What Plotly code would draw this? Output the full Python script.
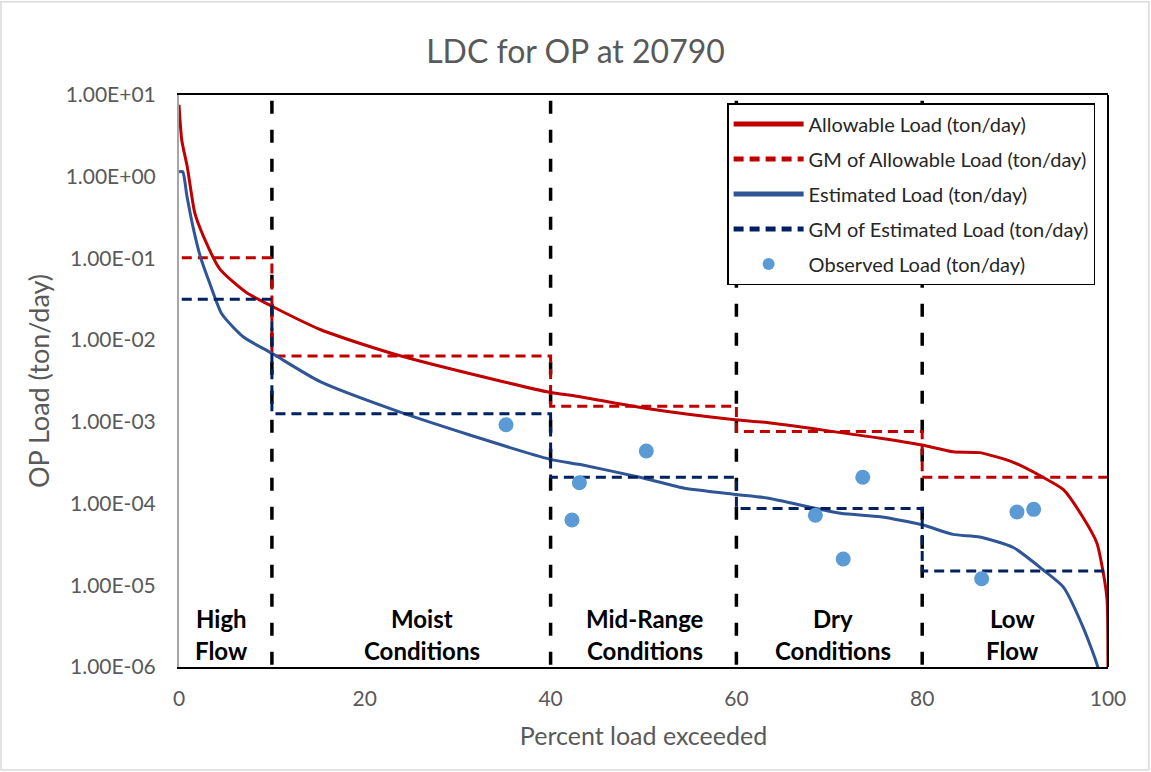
import plotly.graph_objects as go

# ---- data ----
allow_x = [0, 0.3, 0.9, 1.7, 2.6, 4.4, 7.3, 10, 15.2, 20.6, 24.1, 34.9, 39.9, 43, 50, 59.6, 63.3,
           75.5, 80, 83.3, 86.2, 89.8, 93, 95.2, 97.3, 98.8, 99.5, 99.9, 100]
allow_y = [7.6, 2.8, 1.3, 0.36, 0.19, 0.074, 0.038, 0.026, 0.0135, 0.0083, 0.0063, 0.0031, 0.0023,
           0.00204, 0.00148, 0.00107, 0.00098, 0.00063, 0.00052, 0.00043, 0.00042, 0.00032, 0.00021,
           0.000148, 0.000068, 0.000033, 0.000014, 0.0000066, 0.0000005]

est_x = [0, 0.4, 0.85, 1.5, 2.3, 3.3, 4.6, 6.9, 10, 15.2, 23.5, 31.3, 39.9, 43.2, 49.6, 54.3, 60,
         63.3, 71.2, 75.5, 80, 83.3, 86.2, 89.8, 93, 95.2, 97.3, 98.9, 99.3]
est_y = [1.15, 1.15, 0.58, 0.245, 0.105, 0.05, 0.021, 0.011, 0.0069, 0.0031, 0.00135, 0.00069,
         0.00035, 0.0003, 0.00021, 0.000155, 0.000129, 0.000117, 0.000076, 0.000069, 0.000055,
         0.000042, 0.000039, 0.000029, 0.0000155, 0.0000095, 0.0000031, 0.000001, 0.0000005]

zone_edges = [0.3, 10, 40, 60, 80, 100]
gm_allow = [0.102, 0.0064, 0.00155, 0.00076, 0.00021]
gm_est = [0.0316, 0.00126, 0.00021, 0.000087, 0.000015]

obs_x = [35.2, 42.3, 43.1, 50.3, 68.5, 71.5, 73.6, 86.4, 90.2, 92.0]
obs_y = [0.00092, 0.000063, 0.00018, 0.00044, 0.000072, 0.000021, 0.00021, 0.000012, 0.000079, 0.000085]

boundaries = [10, 40, 60, 80]
zone_line1 = ["High", "Moist", "Mid-Range", "Dry", "Low"]
zone_line2 = ["Flow", "Conditions", "Conditions", "Conditions", "Flow"]
zone_center = [4.6, 26.2, 50.2, 70.4, 89.7]

y_tickvals = [1e-6, 1e-5, 1e-4, 1e-3, 1e-2, 1e-1, 1, 10]
y_ticktext = ["1.00E-06", "1.00E-05", "1.00E-04", "1.00E-03", "1.00E-02", "1.00E-01", "1.00E+00", "1.00E+01"]
x_tickvals = [0, 20, 40, 60, 80, 100]


def step(edges, vals):
    xs, ys = [], []
    for i, v in enumerate(vals):
        xs += [edges[i], edges[i + 1]]
        ys += [v, v]
    return xs, ys


FONT = "Lato"
GRAY = "#595959"

fig = go.Figure()

for b in boundaries:
    fig.add_trace(go.Scatter(x=[b, b], y=[8.5, 1e-6], mode="lines", showlegend=False,
                             line=dict(color="black", width=3.5, dash="13px,16px"), hoverinfo="skip"))

fig.add_trace(go.Scatter(x=allow_x, y=allow_y, mode="lines", name="Allowable Load (ton/day)",
                         legendgroup="a", line=dict(color="#C00000", width=3, shape="spline", smoothing=0.6)))
gx, gy = step(zone_edges, gm_allow)
fig.add_trace(go.Scatter(x=gx, y=gy, mode="lines", name="GM of Allowable Load (ton/day)",
                         legendgroup="b", line=dict(color="#C00000", width=3, dash="10px,6px")))
fig.add_trace(go.Scatter(x=est_x, y=est_y, mode="lines", name="Estimated Load (ton/day)",
                         legendgroup="c", line=dict(color="#2F5597", width=3, shape="spline", smoothing=0.6)))
gx, gy = step(zone_edges, gm_est)
fig.add_trace(go.Scatter(x=gx, y=gy, mode="lines", name="GM of Estimated Load (ton/day)",
                         legendgroup="d", line=dict(color="#002060", width=3, dash="10px,6px")))
fig.add_trace(go.Scatter(x=obs_x, y=obs_y, mode="markers", name="Observed Load (ton/day)",
                         legendgroup="e", marker=dict(color="#5B9BD5", size=15)))

for xc, t1, t2 in zip(zone_center, zone_line1, zone_line2):
    fig.add_annotation(x=xc, y=0.084, xref="x", yref="paper", yanchor="middle", text="<b>%s</b>" % t1,
                       showarrow=False, font=dict(family=FONT, size=24, color="black"))
    fig.add_annotation(x=xc, y=0.028, xref="x", yref="paper", yanchor="middle", text="<b>%s</b>" % t2,
                       showarrow=False, font=dict(family=FONT, size=24, color="black"))

# right frame line
fig.add_shape(type="line", xref="paper", yref="paper", x0=1, x1=1, y0=0, y1=1,
              line=dict(color="black", width=2))
# outer chart border
fig.add_shape(type="rect", xref="paper", yref="paper", x0=-0.1916, x1=1.044, y0=-0.180, y1=1.163,
              line=dict(color="#D9D9D9", width=1.5))

fig.update_layout(
    width=1151, height=772,
    margin=dict(l=179, r=43, t=95, b=105),
    paper_bgcolor="white", plot_bgcolor="white",
    font=dict(family=FONT, color=GRAY),
    title=dict(text="LDC for OP at 20790", x=0.5, xanchor="center", y=0.933, yanchor="middle",
               font=dict(family=FONT, size=32, color=GRAY)),
    legend=dict(x=0.59, y=0.986, xanchor="left", yanchor="top", bordercolor="black", borderwidth=1.5,
                bgcolor="white", font=dict(family=FONT, size=20, color="#262626"),
                itemwidth=70, tracegroupgap=6, itemsizing="constant"),
    xaxis=dict(range=[0, 100], tickvals=x_tickvals, showgrid=False, zeroline=False,
               showline=True, linecolor="black", linewidth=2, mirror=True, ticks="",
               tickfont=dict(family=FONT, size=21, color=GRAY), ticklabelstandoff=12,
               title=dict(text="Percent load exceeded", font=dict(family=FONT, size=25, color=GRAY), standoff=18)),
    yaxis=dict(type="log", range=[-6, 1], tickvals=y_tickvals, ticktext=y_ticktext, showgrid=False,
               zeroline=False, showline=True, linecolor="#A6A6A6", linewidth=2, ticks="",
               tickfont=dict(family=FONT, size=21, color=GRAY), ticklabelstandoff=17,
               title=dict(text="OP Load (ton/day)", font=dict(family=FONT, size=27, color=GRAY), standoff=8)),
)

fig.write_html("out.html", config={"displayModeBar": False},
               post_script="document.body.style.margin='0';")
